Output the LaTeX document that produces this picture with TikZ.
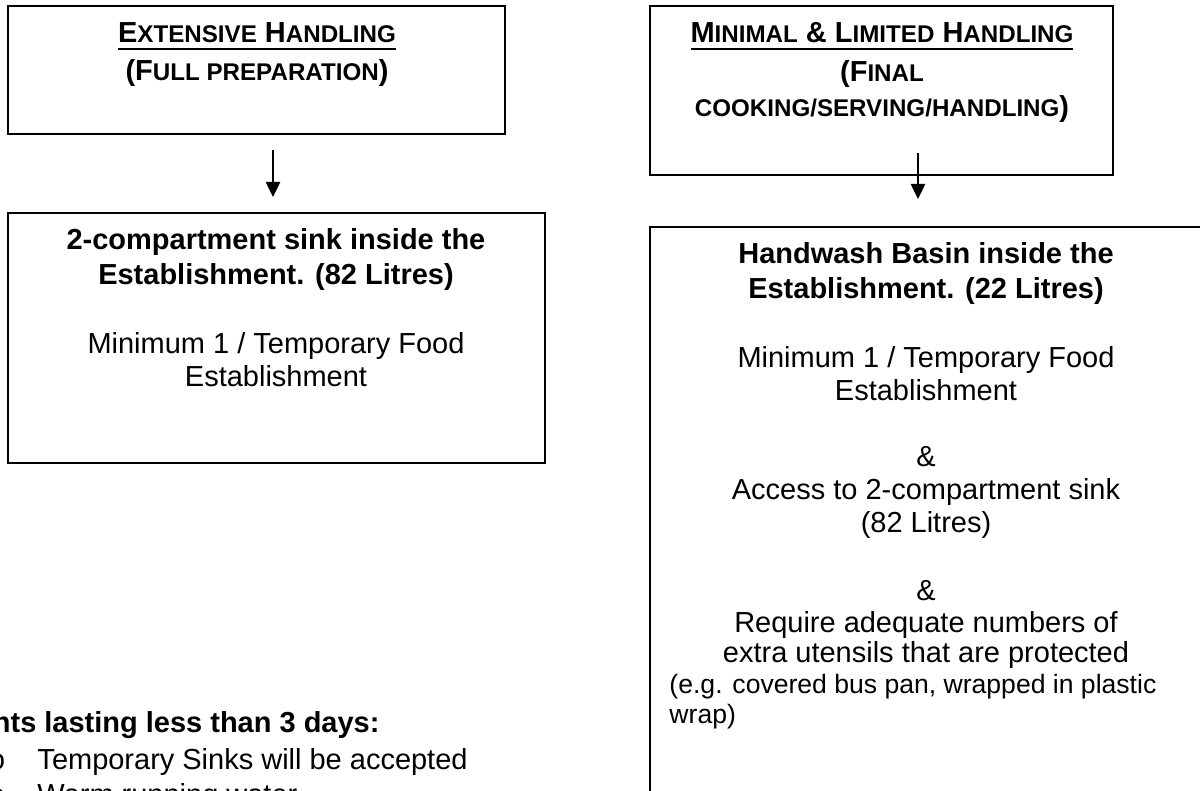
\documentclass[tikz,border=0pt]{standalone}
\usepackage{fontspec}
\setmainfont{Liberation Sans}
\setmonofont{Liberation Mono}
\usetikzlibrary{arrows.meta,positioning}

\newcommand{\smc}[1]{{\fontsize{10}{11.5}\selectfont #1}}
\newcommand{\ulbar}[1]{\setbox0\hbox{#1}\rlap{\rule[-2.8pt]{\wd0}{0.8pt}}\box0}

\tikzset{
  box/.style={draw=black,line width=0.8pt},
  flow/.style={line width=0.65pt,-{Triangle[width=6pt,length=6.3pt]}},
  txt/.style={anchor=base,inner sep=0pt,font=\fontsize{12}{13.8}\selectfont},
  btxt/.style={txt,font=\fontsize{12}{13.8}\selectfont\bfseries},
  stxt/.style={anchor=base west,inner sep=0pt,font=\fontsize{11}{12.6}\selectfont},
}

\begin{document}
\begin{tikzpicture}[x=0.414pt,y=-0.414pt]
  \useasboundingbox (0,0) rectangle (1200,791);
  \clip (0,0) rectangle (1200,791);

  % Boxes
  \draw[box] (8,6) rectangle (505,134);
  \draw[box] (8,213) rectangle (545,463);
  \draw[box] (650,6) rectangle (1113,175);
  \draw[box] (650,227) rectangle (1202,820);

  % Extensive handling
  \node[btxt] (extTitle) at (257,43) {\ulbar{E\smc{XTENSIVE} H\smc{ANDLING}}};
  \node[btxt] (extSub) at (257,81) {(F\smc{ULL PREPARATION})};

  \node[btxt] (sinkA) at (276,250) {2-compartment sink inside the};
  \node[btxt] (sinkB) at (276,285) {Establishment. (82 Litres)};
  \node[txt] (sinkC) at (276,354) {Minimum 1 / Temporary Food};
  \node[txt] (sinkD) at (276,387) {Establishment};

  % Minimal & limited handling
  \node[btxt] (minTitle) at (882,43) {\ulbar{M\smc{INIMAL} \& L\smc{IMITED} H\smc{ANDLING}}};
  \node[btxt] (minSubA) at (882,82) {(F\smc{INAL}};
  \node[btxt] (minSubB) at (882,117) {\smc{COOKING/SERVING/HANDLING})};

  \node[btxt] (basinA) at (926,264) {Handwash Basin inside the};
  \node[btxt] (basinB) at (926,299) {Establishment. (22 Litres)};
  \node[txt] (basinC) at (926,368) {Minimum 1 / Temporary Food};
  \node[txt] (basinD) at (926,401) {Establishment};
  \node[txt] (andA) at (926,467) {\&};
  \node[txt] (accessA) at (926,500) {Access to 2-compartment sink};
  \node[txt] (accessB) at (926,533) {(82 Litres)};
  \node[txt] (andB) at (926,601) {\&};
  \node[txt] (reqA) at (926,633) {Require adequate numbers of};
  \node[txt] (reqB) at (926,663) {extra utensils that are protected};
  \node[stxt] (egA) at (669,694) {(e.g. covered bus pan, wrapped in plastic};
  \node[stxt] (egB) at (669,724) {wrap)};

  % Arrows
  \coordinate (extFrom) at (273,150);
  \coordinate (extTo) at (273,197);
  \draw[flow] (extFrom) -- (extTo);
  \coordinate (minFrom) at (918,153);
  \coordinate (minTo) at (918,199);
  \draw[flow] (minFrom) -- (minTo);

  % Short events
  \node[btxt,anchor=base east] (evTitle) at (380,733) {For events lasting less than 3 days:};
  \node[txt,anchor=base west,font=\fontsize{12}{13.8}\ttfamily] (bulA) at (-12,770) {o};
  \node[txt,anchor=base west] (itemA) at (37,770) {Temporary Sinks will be accepted};
  \node[txt,anchor=base west,font=\fontsize{12}{13.8}\ttfamily] (bulB) at (-12,805) {o};
  \node[txt,anchor=base west] (itemB) at (37,805) {Warm running water};
\end{tikzpicture}
\end{document}
